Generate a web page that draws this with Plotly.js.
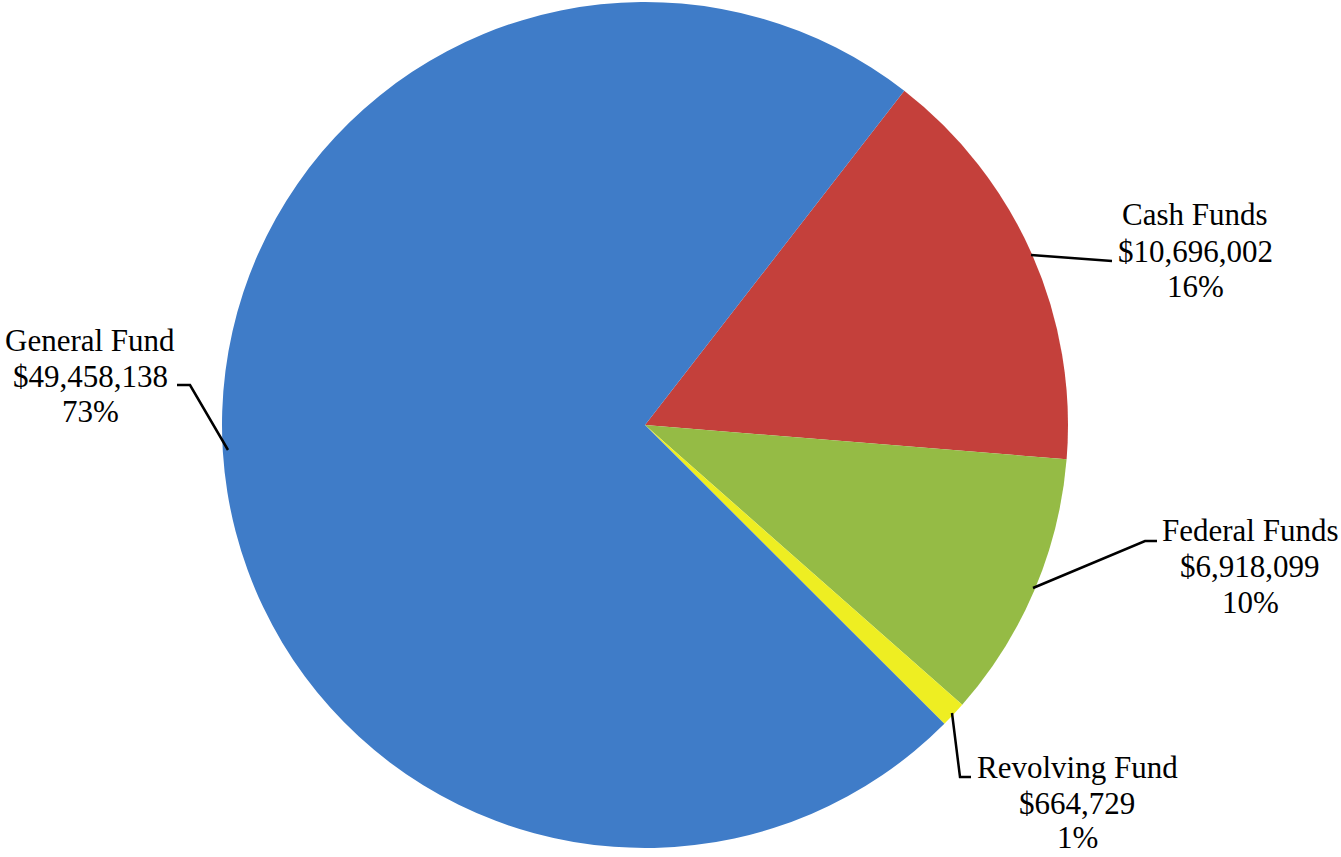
<!DOCTYPE html>
<html>
<head>
<meta charset="utf-8">
<script src="https://cdn.plot.ly/plotly-3.0.1.min.js"></script>
<style>html,body{margin:0;padding:0;background:#fff;}#chart{width:1341px;height:857px;}</style>
</head>
<body>
<div id="chart"></div>
<script>
const categories = ["Cash Funds", "Federal Funds", "Revolving Fund", "General Fund"];
const values = [10696002, 6918099, 664729, 49458138];
const valueLabels = ["$10,696,002", "$6,918,099", "$664,729", "$49,458,138"];
const percentLabels = ["16%", "10%", "1%", "73%"];
const colors = ["#C4403B", "#95BB45", "#EEEE22", "#3F7CC8"];

const W = 1341, H = 857;
const px = x => x / W;
const py = y => 1 - y / H;

// label positions: centre x and centre y of the first line (pixels)
const labelPos = [[1195, 215], [1250, 530], [1077, 767], [90, 340]];
const lineGap = 36;
const leaders = [
  [[1031, 255], [1112, 261]],
  [[1033, 588], [1145, 541], [1157, 541]],
  [[952, 713], [960, 777], [971, 777]],
  [[228, 450], [190, 385], [177, 385]]
];

const trace = {
  type: "pie",
  labels: categories,
  values: values,
  sort: false,
  direction: "clockwise",
  rotation: 37.8,
  textinfo: "none",
  hoverinfo: "label+value+percent",
  marker: {colors: colors, line: {width: 0}},
  domain: {x: [222 / W, 1068 / W], y: [1 - 848 / H, 1 - 2 / H]},
  showlegend: false
};

const font = {family: "Liberation Serif, Times New Roman, serif", size: 31, color: "#000"};
const annotations = [];
categories.forEach((c, i) => {
  [c, valueLabels[i], percentLabels[i]].forEach((t, k) => {
    const cy = labelPos[i][1] + k * lineGap;
    const nearBottom = cy + 20 > H;
    annotations.push({
      xref: "paper", yref: "paper",
      x: px(labelPos[i][0]),
      y: nearBottom ? py(H - 1) : py(cy),
      xanchor: "center", yanchor: nearBottom ? "bottom" : "middle",
      borderpad: 0,
      text: t, showarrow: false, font: font
    });
  });
});

const shapes = leaders.map(pts => ({
  type: "path",
  xref: "paper", yref: "paper",
  path: pts.map((p, j) => (j === 0 ? "M" : "L") + px(p[0]) + "," + py(p[1])).join(" "),
  line: {color: "#000", width: 2.5}
}));

const layout = {
  width: W, height: H,
  margin: {l: 0, r: 0, t: 0, b: 0},
  paper_bgcolor: "#fff",
  plot_bgcolor: "#fff",
  annotations: annotations,
  shapes: shapes
};

Plotly.newPlot("chart", [trace], layout, {displayModeBar: false, staticPlot: true});
</script>
</body>
</html>
